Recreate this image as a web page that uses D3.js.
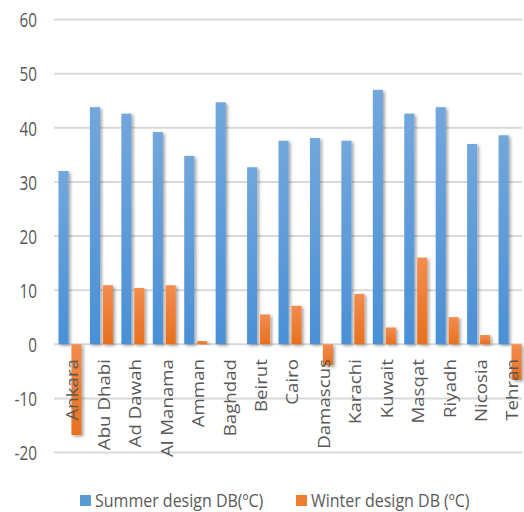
<!DOCTYPE html>
<html>
<head>
<meta charset="utf-8">
<script src="https://cdn.jsdelivr.net/npm/d3@7/dist/d3.min.js"></script>
<style>
  html, body { margin: 0; padding: 0; background: #fff; }
  svg { display: block; }
  text { font-family: "Open Sans", "Noto Sans", sans-serif; fill: #595959; }
</style>
</head>
<body>
<div id="chart"></div>
<script>
// Design dry-bulb temperatures for Middle East cities
const cities = ["Ankara", "Abu Dhabi", "Ad Dawah", "Al Manama", "Amman", "Baghdad", "Beirut",
  "Cairo", "Damascus", "Karachi", "Kuwait", "Masqat", "Riyadh", "Nicosia", "Tehran"];
const summerDB = [32.0, 43.8, 42.6, 39.2, 34.8, 44.7, 32.7, 37.6, 38.1, 37.6, 47.0, 42.6, 43.8, 37.0, 38.6];
const winterDB = [-16.8, 10.9, 10.4, 10.9, 0.6, 0, 5.5, 7.1, -3.9, 9.3, 3.1, 16.0, 5.0, 1.7, -6.6];
const yTicks = [-20, -10, 0, 10, 20, 30, 40, 50, 60];
const seriesNames = ["Summer design DB(ºC)", "Winter design DB (ºC)"];
const seriesKeys = ["summer", "winter"];

const W = 524, H = 512;
const svg = d3.select("#chart").append("svg").attr("width", W).attr("height", H);

const defs = svg.append("defs");
function grad(id, top, bottom) {
  const g = defs.append("linearGradient").attr("id", id)
    .attr("x1", 0).attr("y1", 0).attr("x2", 0).attr("y2", 1);
  g.append("stop").attr("offset", "0%").attr("stop-color", top);
  g.append("stop").attr("offset", "100%").attr("stop-color", bottom);
}
grad("gSummer", "#72a7dc", "#4a90d6");
grad("gWinter", "#f38c4e", "#e8701e");
const f = defs.append("filter").attr("id", "shadow")
  .attr("x", "-50%").attr("y", "-10%").attr("width", "200%").attr("height", "130%");
f.append("feDropShadow").attr("dx", 2).attr("dy", 1.5).attr("stdDeviation", 1.6)
  .attr("flood-color", "#000").attr("flood-opacity", 0.35);

const x = d3.scaleBand().domain(cities).range([54, 525.5]).padding(0);
const xi = d3.scaleBand().domain(seriesKeys).range([4.5, 27.5]).paddingInner(0.22);
const y = d3.scaleLinear().domain([-20, 60]).range([452.5, 19.5]);

// gridlines
svg.append("g").selectAll("line").data(yTicks).join("line")
  .attr("x1", 54).attr("x2", 522)
  .attr("y1", d => y(d)).attr("y2", d => y(d))
  .attr("stroke", "#d9d9d9").attr("stroke-width", 2);

// y tick labels
svg.append("g").selectAll("text").data(yTicks).join("text")
  .attr("transform", d => `translate(37,${y(d)}) scale(0.9,1.14)`)
  .attr("text-anchor", "end").attr("dominant-baseline", "central")
  .style("font-size", "17px")
  .text(d => d);

// bars
const rows = cities.map((c, i) => ({ city: c, summer: summerDB[i], winter: winterDB[i] }));
const groups = svg.append("g").selectAll("g").data(rows).join("g")
  .attr("transform", d => `translate(${x(d.city)},0)`);
groups.selectAll("rect").data(d => seriesKeys.map(k => ({ key: k, v: d[k] }))).join("rect")
  .attr("x", d => xi(d.key))
  .attr("width", xi.bandwidth())
  .attr("y", d => y(Math.max(0, d.v)))
  .attr("height", d => Math.abs(y(d.v) - y(0)))
  .attr("fill", d => d.key === "summer" ? "url(#gSummer)" : "url(#gWinter)")
  .attr("filter", "url(#shadow)");

// category labels
svg.append("g").selectAll("text").data(cities).join("text")
  .attr("transform", d => `translate(${x(d) + x.bandwidth() / 2 + 2},359) rotate(-90) scale(1.1,1)`)
  .attr("text-anchor", "end").attr("dominant-baseline", "central")
  .style("font-size", "17px")
  .text(d => d);

// legend
const legendX = [80, 296];
const lg = svg.append("g").selectAll("g").data(seriesNames).join("g")
  .attr("transform", (d, i) => `translate(${legendX[i]},495)`);
lg.append("rect").attr("width", 11).attr("height", 11)
  .attr("fill", (d, i) => i === 0 ? "#5b9bd5" : "#ed7d31");
lg.append("text").attr("transform", "translate(15,5.5) scale(1,1.08)")
  .attr("dominant-baseline", "central")
  .style("font-size", "16px")
  .text(d => d);
</script>
</body>
</html>
